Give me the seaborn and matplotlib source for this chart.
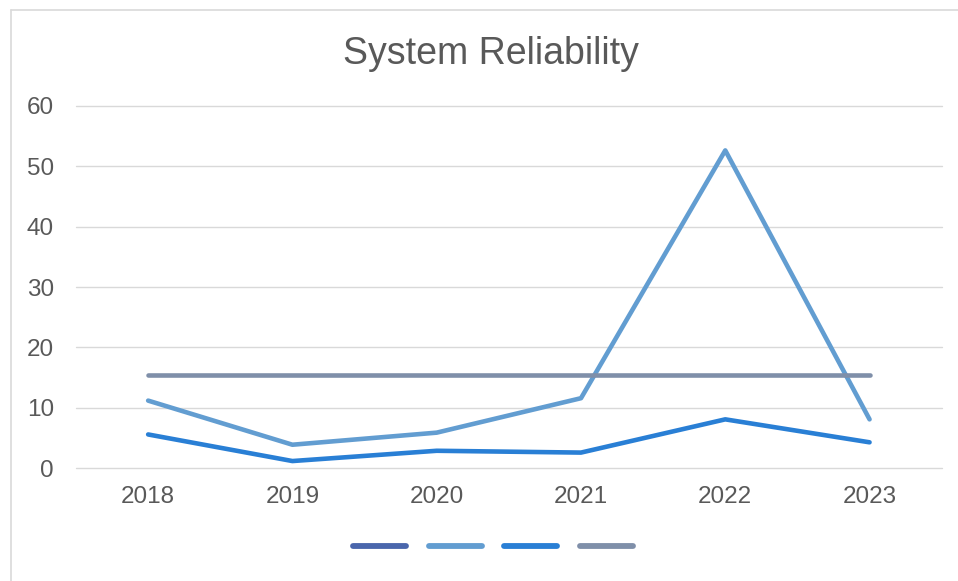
import numpy as np
import pandas as pd
import matplotlib
matplotlib.use("Agg")
import matplotlib.pyplot as plt
from matplotlib.lines import Line2D
import seaborn as sns

# Data
years = [2018, 2019, 2020, 2021, 2022, 2023]
series_names = ["Series 1", "Series 2", "Series 3", "Series 4"]
series_1 = [np.nan, np.nan, np.nan, np.nan, np.nan, np.nan]
series_2 = [11.2, 3.9, 5.9, 11.6, 52.6, 8.1]
series_3 = [5.6, 1.2, 2.9, 2.6, 8.1, 4.3]
series_4 = [15.5, 15.5, 15.5, 15.5, 15.5, 15.5]
series_colors = ["#4A66AC", "#629DD1", "#297FD5", "#7F8FA9"]
y_ticks = [0, 10, 20, 30, 40, 50, 60]

df = pd.DataFrame({
    "year": years * 4,
    "value": series_1 + series_2 + series_3 + series_4,
    "series": [n for n in series_names for _ in years],
})

sns.set_theme(style="white")
plt.rcParams["font.family"] = ["Liberation Sans", "DejaVu Sans"]

W, H = 958, 581
fig = plt.figure(figsize=(W / 100, H / 100), dpi=100)
fig.patch.set_facecolor("white")

# plot area in pixel terms
left_px, right_px, top_px, bottom_px = 76, 941.7, 105.7, 468.3
ax = fig.add_axes([left_px / W, 1 - bottom_px / H,
                   (right_px - left_px) / W, (bottom_px - top_px) / H])

sns.lineplot(data=df.dropna(), x="year", y="value", hue="series",
             hue_order=series_names, palette=series_colors,
             estimator=None, sort=False, legend=False, ax=ax,
             linewidth=3.3)
for line in ax.get_lines():
    line.set_solid_capstyle("round")
    line.set_solid_joinstyle("round")

ax.set_xlim(2017.5, 2023.5)
ax.set_ylim(0, 60)
ax.set_xticks(years)
ax.set_xticklabels([str(y) for y in years])
ax.set_yticks(y_ticks)
ax.set_yticklabels([str(t) for t in y_ticks])
ax.set_xlabel("")
ax.set_ylabel("")
ax.grid(axis="y", color="#D9D9D9", linewidth=1.0)
ax.grid(axis="x", visible=False)
for gl in ax.get_ygridlines():
    gl.set_clip_on(False)
ax.set_axisbelow(True)
for s in ax.spines.values():
    s.set_visible(False)
ax.tick_params(axis="both", length=0, labelsize=17.5, labelcolor="#595959")
ax.tick_params(axis="y", pad=16)
ax.tick_params(axis="x", pad=13)

# title
fig.text(490.5 / W, 1 - 64 / H, "System Reliability", ha="center",
         va="baseline", fontsize=27, color="#595959")

# legend with blank entries
handles = [Line2D([], [], color=c, linewidth=4.2, solid_capstyle="round")
           for c in series_colors]
leg = fig.legend(handles, ["", "", "", ""], loc="center",
                 bbox_to_anchor=(493 / W, 1 - 548 / H), ncol=4,
                 frameon=False, fontsize=16.5, handlelength=2.3,
                 handletextpad=0.0, columnspacing=1.0, borderpad=0)

# chart area border (left and top edges)
border_color = "#D9D9D9"
fig.add_artist(Line2D([10.5 / W, 10.5 / W], [0, 1 - 9.5 / H],
                      transform=fig.transFigure, color=border_color,
                      linewidth=1.2))
fig.add_artist(Line2D([10.5 / W, 1], [1 - 9.5 / H, 1 - 9.5 / H],
                      transform=fig.transFigure, color=border_color,
                      linewidth=1.2))

fig.savefig("out.png", dpi=100, facecolor="white")
